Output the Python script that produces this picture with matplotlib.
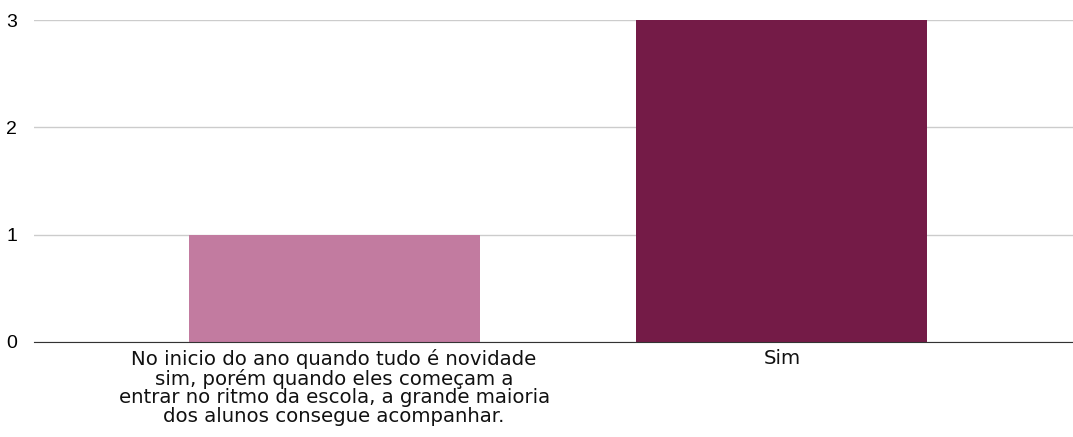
import matplotlib.pyplot as plt

categorias = [
    "No inicio do ano quando tudo é novidade\nsim, porém quando eles começam a\n"
    "entrar no ritmo da escola, a grande maioria\ndos alunos consegue acompanhar.",
    "Sim",
]
valores = [1, 3]
cores = ["#C27BA0", "#741B47"]

plt.rcParams['font.family'] = ['Liberation Sans', 'DejaVu Sans']

fig = plt.figure(figsize=(10.73, 4.37), dpi=100)
ax = fig.add_axes([0.0317, 0.2174, 0.9683, 0.7368])

x = list(range(len(categorias)))
ax.bar(x, valores, width=0.65, color=cores, zorder=3)

ax.set_xlim(-0.67, 1.65)
ax.set_ylim(0, 3)
ax.set_yticks([0, 1, 2, 3])
ax.set_yticklabels(["0", "1", "2", "3"], family=['Liberation Sans'], fontsize=14)
ax.set_xticks(x)
ax.set_xticklabels(categorias, fontsize=14.2, linespacing=0.98,
                   family=['DejaVu Sans'], color='#111111')
ax.tick_params(axis='y', length=0, pad=12)
ax.tick_params(axis='x', length=0, pad=5)
ax.grid(axis='y', color='#cccccc', linewidth=1, zorder=0)
for lado in ['top', 'right', 'left']:
    ax.spines[lado].set_visible(False)
ax.spines['bottom'].set_color('#333333')
ax.spines['bottom'].set_zorder(4)

fig.savefig('out.png', dpi=100)
